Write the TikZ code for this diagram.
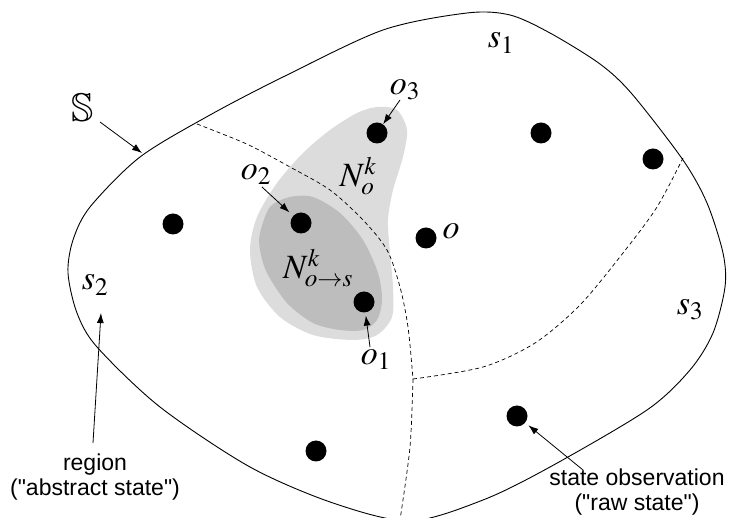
\documentclass[tikz,border=0pt]{standalone}
\usepackage{mathptmx}
\usepackage{amssymb}
\usepackage[no-math]{fontspec}
\newfontfamily\labelfont{Liberation Sans}
\usetikzlibrary{arrows.meta}
\definecolor{lightreg}{HTML}{DCDCDC}
\definecolor{darkreg}{HTML}{BDBDBD}
\begin{document}
\begin{tikzpicture}[x=1pt,y=-1pt,
  obsdot/.style={circle, fill=black, inner sep=0pt, minimum size=21pt},
  mlabel/.style={inner sep=0pt, font=\fontsize{34}{40}\selectfont},
  note/.style={inner sep=0pt, align=center, font=\labelfont\fontsize{23}{25}\selectfont},
  arr/.style={-{Latex[length=10pt,width=7pt]}, line width=0.8pt},
  border/.style={line width=0.9pt},
  divider/.style={line width=0.7pt, dash pattern=on 4pt off 3pt}]
\useasboundingbox (0,0) rectangle (729,518);
% neighbourhood regions
\fill[lightreg] plot[smooth cycle] coordinates {(377,107) (397,110) (407,130) (403,157) (393,190) (388,220) (390,253) (393,287) (392,317) (377,335) (353,340) (313,335) (280,317) (257,287) (250,250) (257,217) (277,183) (303,153) (330,130) (357,113)};
\fill[darkreg] plot[smooth cycle] coordinates {(260,233) (270,207) (290,197) (313,197) (340,213) (363,240) (378,273) (382,300) (377,320) (363,330) (340,330) (313,323) (287,303) (267,273) (260,250)};
% region boundaries
\draw[divider] plot[smooth] coordinates {(197,124) (230,137) (253,147) (290,167) (330,190) (363,220) (387,250) (400,287) (408,327) (413,379)};
\draw[divider] plot[smooth] coordinates {(413,379) (410,447) (400,520)};
\draw[divider] plot[smooth] coordinates {(413,379) (483,367) (535,343) (580,305) (623,253) (657,207) (683,158)};
% state space boundary
\draw[border] plot[smooth cycle] coordinates {(68,273) (73,240) (90,207) (140,157) (210,115) (283,77) (383,30) (467,13) (510,15) (550,33) (600,64) (632,94) (683,160) (707,203) (723,253) (725,287) (713,333) (690,370) (647,410) (550,467) (483,500) (410,521) (333,503) (250,467) (160,407) (97,347) (77,313)};
% observations
\node[obsdot] (d3) at (377,133) {};
\node[obsdot] (da) at (541,133) {};
\node[obsdot] (db) at (653,159) {};
\node[obsdot] (dc) at (173,224) {};
\node[obsdot] (d2) at (301,223) {};
\node[obsdot] (d0) at (426,238) {};
\node[obsdot] (d1) at (364,302) {};
\node[obsdot] (dd) at (517,416) {};
\node[obsdot] (de) at (316,451) {};
% labels
\node[mlabel] (s1) at (501,43) {$s_1$};
\node[mlabel] (s2) at (95,285) {$s_2$};
\node[mlabel] (s3) at (690,310) {$s_3$};
\node[inner sep=0pt, font=\fontsize{40}{44}\selectfont] (SS) at (83,108) {$\mathbb{S}$};
\node[mlabel] (l3) at (405,90) {$o_3$};
\node[mlabel] (l2) at (256,175) {$o_2$};
\node[mlabel] (l1) at (376,360) {$o_1$};
\node[mlabel] (l0) at (451,231) {$o$};
\node[mlabel] (Nk) at (358,176) {$N_o^k$};
\node[mlabel] (Nks) at (318,268) {$N_{o\to s}^k$};
\node[note] (nreg) at (95,477) {region\\("abstract state")};
\node[note] (nobs) at (637,492) {state observation\\("raw state")};
% arrows
\coordinate (aS) at (100,122);
\coordinate (tS) at (142,153);
\coordinate (a3) at (400,100);
\coordinate (a2) at (262,187);
\coordinate (a1) at (370,347);
\coordinate (aR) at (93,443);
\coordinate (tR) at (101,313);
\coordinate (aO) at (583,470);
\draw[arr] (aS) -- (tS);
\draw[arr] (a3) -- (d3);
\draw[arr, shorten >=5pt] (a2) -- (d2);
\draw[arr, shorten >=3pt] (a1) -- (d1);
\draw[arr] (aR) -- (tR);
\draw[arr, shorten >=4pt] (aO) -- (dd);
\end{tikzpicture}
\end{document}
